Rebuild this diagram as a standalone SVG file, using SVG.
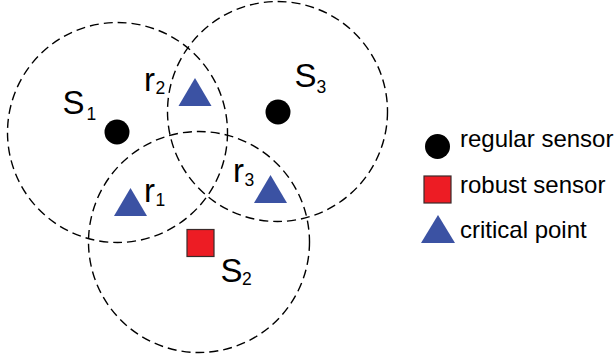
<svg xmlns="http://www.w3.org/2000/svg" width="614" height="360" viewBox="0 0 614 360">
<style>
.range{fill:none;stroke:#000;stroke-width:1.4;stroke-dasharray:9,5}
.reg{fill:#000}
.rob{fill:#ed1c24;stroke:#3a2a2a;stroke-width:1.2}
.crit{fill:#3b52a3}
.lbl{font-family:"Liberation Sans",Arial,sans-serif;fill:#000;font-size:33px}
.sub{font-size:17.5px}
.leg{font-family:"Liberation Sans",Arial,sans-serif;fill:#000;font-size:24px}
</style>
<rect width="614" height="360" fill="#fff"/>
<g id="ranges">
<circle class="range" cx="117.5" cy="132.5" r="110"/>
<circle class="range" cx="277.5" cy="111.5" r="110"/>
<circle class="range" cx="199" cy="242" r="110.5"/>
</g>
<g id="s1">
<circle class="reg" cx="117" cy="132" r="12.5"/>
<text class="lbl" x="62.5" y="114">S</text><text class="lbl sub" x="86.5" y="120">1</text>
</g>
<g id="s3">
<circle class="reg" cx="278" cy="112" r="12.5"/>
<text class="lbl" x="294.5" y="87">S</text><text class="lbl sub" x="316.5" y="93">3</text>
</g>
<g id="s2">
<rect class="rob" x="187" y="229.5" width="27" height="27"/>
<text class="lbl" x="220.5" y="282">S</text><text class="lbl sub" x="242" y="285">2</text>
</g>
<g id="r2">
<polygon class="crit" points="195,78 211.5,106 178.5,106"/>
<text class="lbl" x="144" y="91">r</text><text class="lbl sub" x="155.5" y="94">2</text>
</g>
<g id="r1">
<polygon class="crit" points="130.5,188 147,216 114,216"/>
<text class="lbl" x="144" y="202">r</text><text class="lbl sub" x="155.5" y="206">1</text>
</g>
<g id="r3">
<polygon class="crit" points="270.5,175 287,203 254,203"/>
<text class="lbl" x="233" y="182">r</text><text class="lbl sub" x="244.5" y="186">3</text>
</g>
<g id="legend">
<circle class="reg" cx="437.5" cy="146.5" r="12.5"/>
<text class="leg" x="460" y="147">regular sensor</text>
<rect class="rob" x="424" y="176" width="27" height="27"/>
<text class="leg" x="460" y="193">robust sensor</text>
<polygon class="crit" points="438,215 455,243 421,243"/>
<text class="leg" x="460" y="238">critical point</text>
</g>
</svg>
